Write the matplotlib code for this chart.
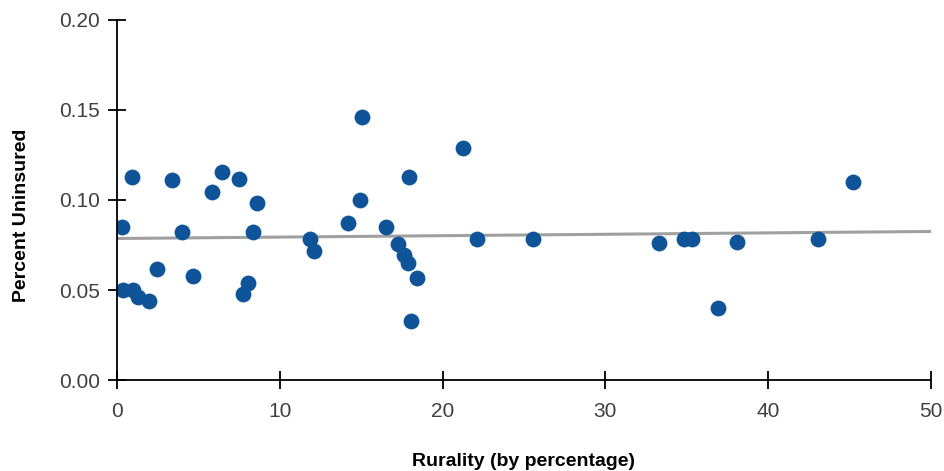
import numpy as np
import matplotlib
matplotlib.use('Agg')
import matplotlib.pyplot as plt

plt.rcParams['font.family'] = ['Liberation Sans', 'DejaVu Sans']

# Dados
rurality = [0.31, 0.39, 0.90, 1.00, 1.31, 1.97, 2.44, 3.36, 3.97, 4.69,
            5.82, 6.47, 7.51, 7.72, 8.07, 8.37, 8.62, 11.86, 12.12, 14.21,
            14.94, 15.07, 16.52, 17.28, 17.63, 17.89, 17.94, 18.04, 18.45, 21.27,
            22.09, 25.55, 33.27, 34.85, 35.34, 36.92, 38.10, 43.04, 45.19]
uninsured = [0.0848, 0.0500, 0.1129, 0.0500, 0.0463, 0.0441, 0.0617, 0.1111, 0.0824, 0.0578,
             0.1046, 0.1154, 0.1115, 0.0476, 0.0537, 0.0821, 0.0982, 0.0783, 0.0717, 0.0871,
             0.1000, 0.1463, 0.0848, 0.0756, 0.0694, 0.0652, 0.1129, 0.0329, 0.0568, 0.1291,
             0.0782, 0.0783, 0.0759, 0.0783, 0.0783, 0.0402, 0.0765, 0.0782, 0.1102]

# Linha de tendencia
trend_x = [0, 50]
trend_y = [0.0786, 0.0825]

fig = plt.figure(figsize=(9.44, 4.71), dpi=100)
ax = fig.add_axes([0.124, 0.193, 0.862, 0.765])

ax.plot(trend_x, trend_y, color='#a0a0a0', linewidth=2.2, zorder=1)
ax.scatter(rurality, uninsured, s=130, color='#0f5499', linewidths=0, zorder=2)

ax.set_xlim(0, 50)
ax.set_ylim(0, 0.20)
ax.set_xticks([0, 10, 20, 30, 40, 50])
ax.set_yticks([0, 0.05, 0.10, 0.15, 0.20])
ax.set_yticklabels(['0.00', '0.05', '0.10', '0.15', '0.20'])

for s in ['top', 'right']:
    ax.spines[s].set_visible(False)
for s in ['left', 'bottom']:
    ax.spines[s].set_linewidth(1.3)
    ax.spines[s].set_color('black')

ax.tick_params(direction='inout', length=13, width=1.3, colors='black',
               labelcolor='#404040', labelsize=15)
ax.tick_params(axis='x', pad=9)
ax.tick_params(axis='y', pad=6)

ax.set_xlabel('Rurality (by percentage)', fontsize=14, fontweight='bold', labelpad=23)
ax.set_ylabel('Percent Uninsured', fontsize=14, fontweight='bold')
ax.yaxis.set_label_coords(-0.107, 0.456)

fig.savefig('out.png', dpi=100)
